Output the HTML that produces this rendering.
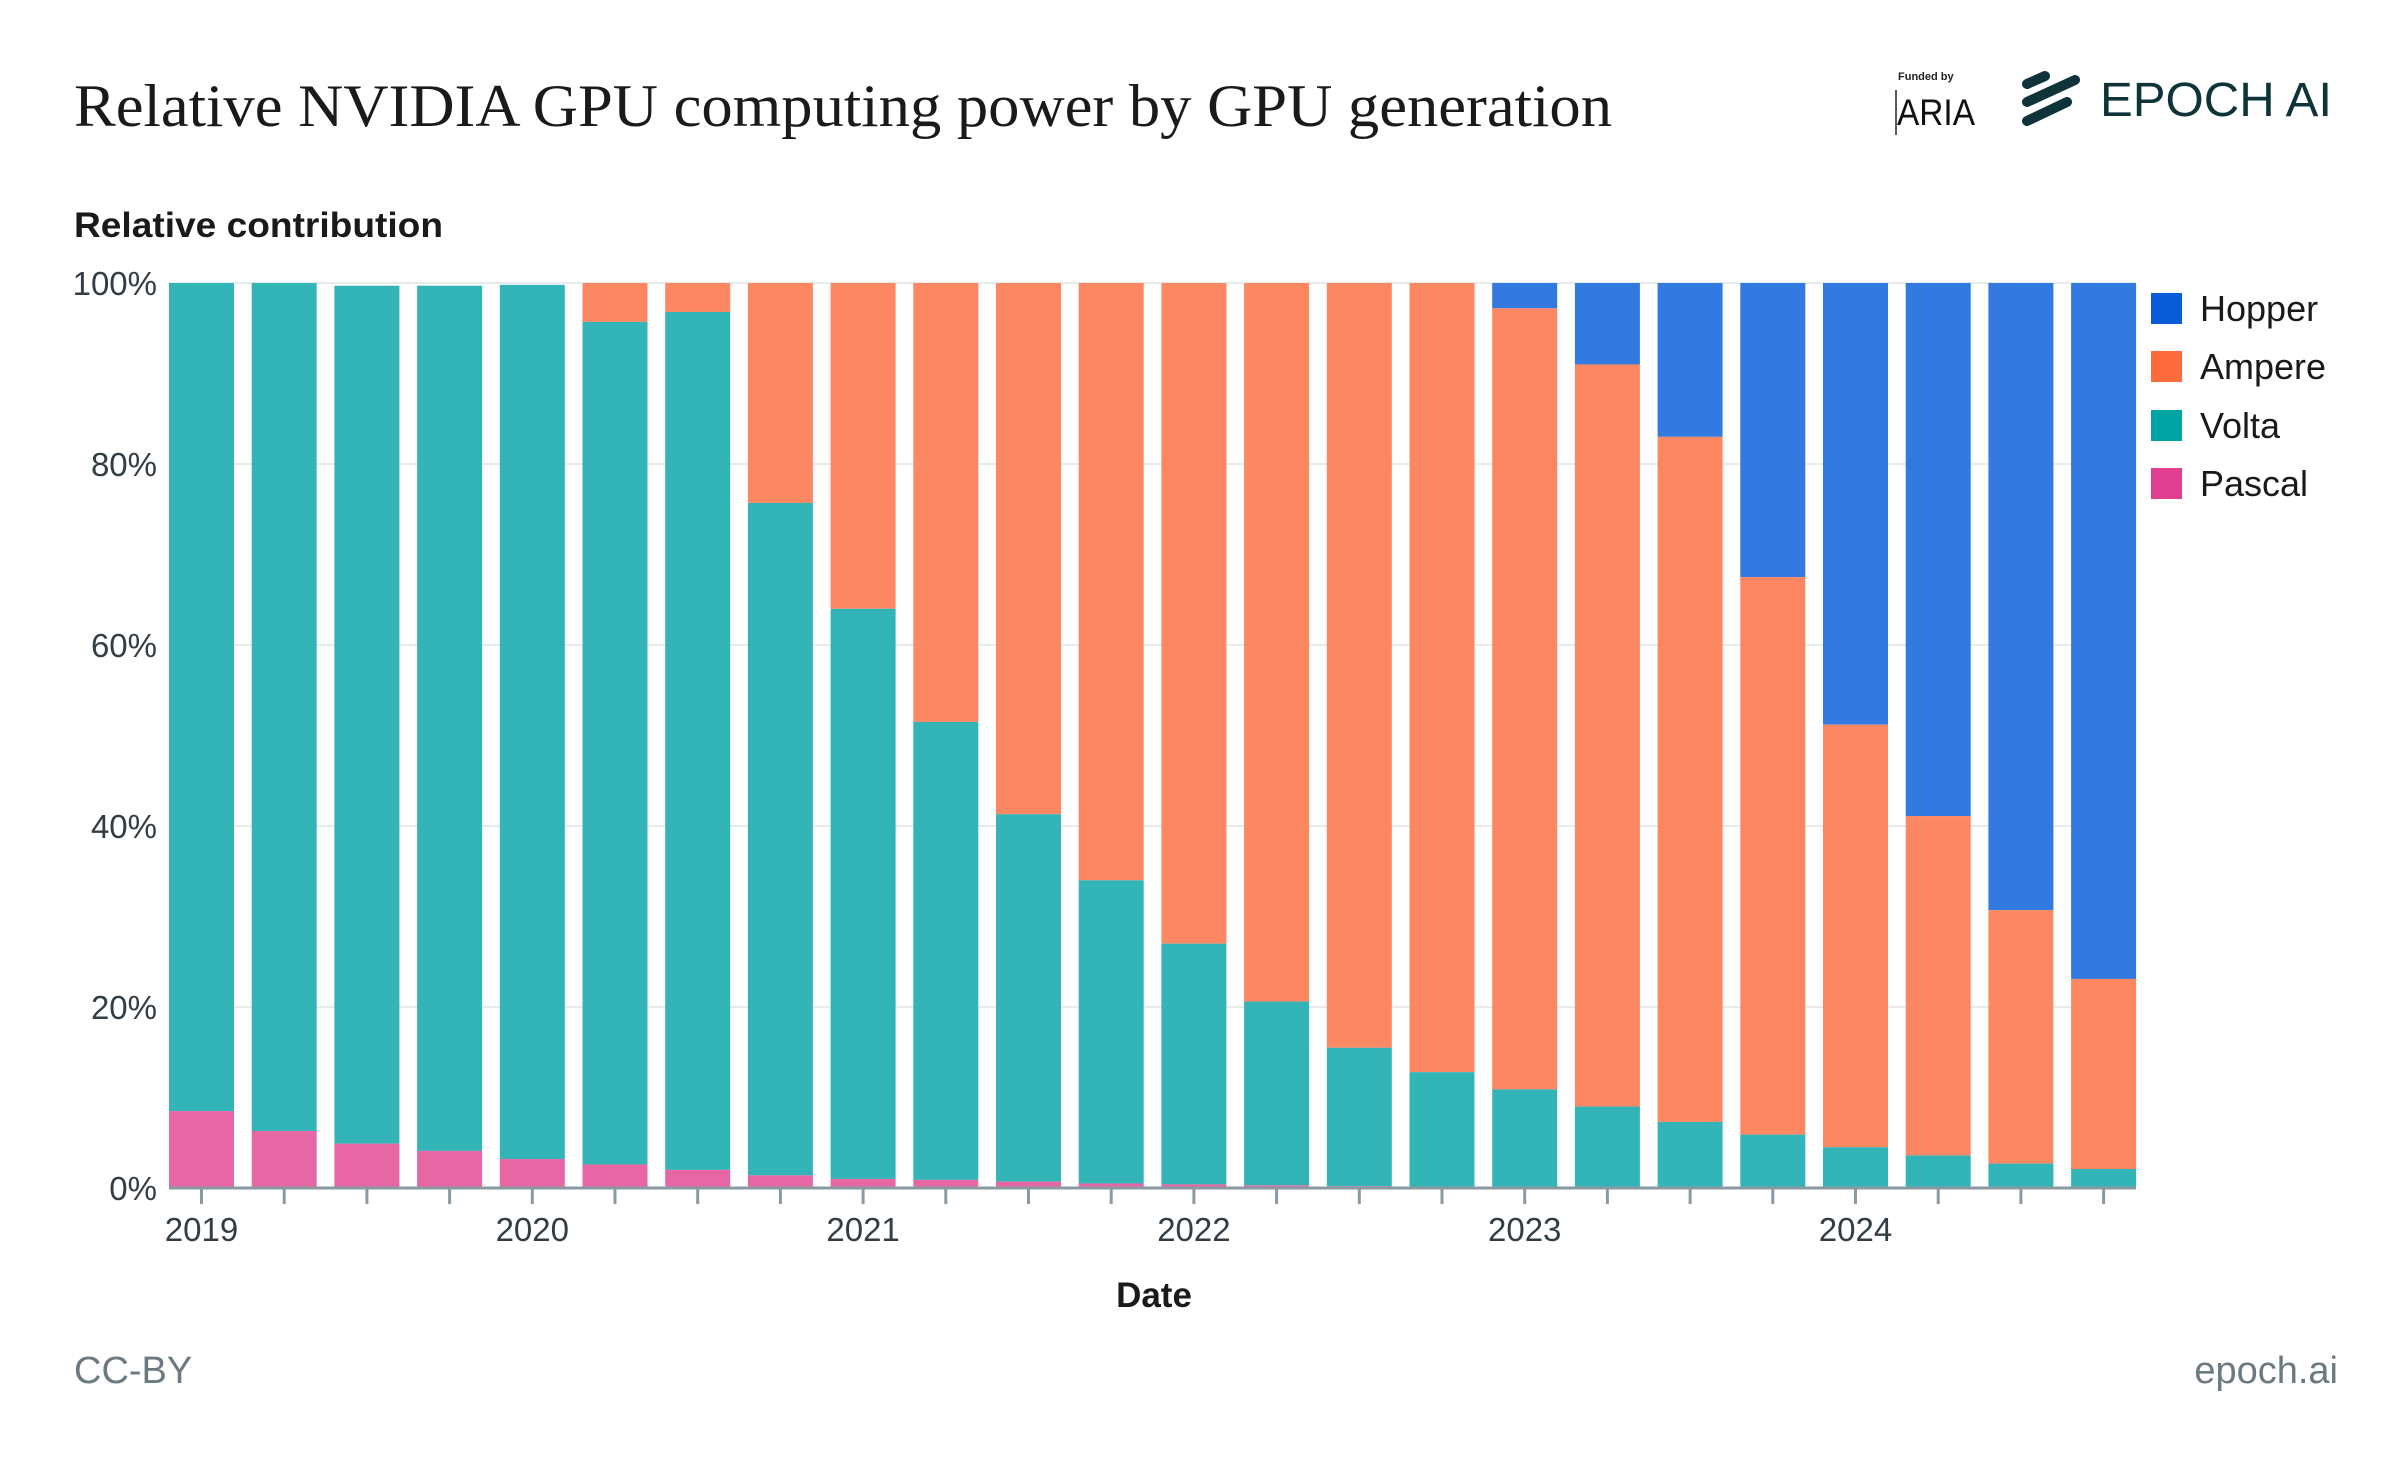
<!DOCTYPE html>
<html><head><meta charset="utf-8"><style>
html,body{margin:0;padding:0;background:#fff;}
svg{display:block;}
</style></head><body>
<svg id="s" width="2400" height="1469" viewBox="0 0 2400 1469" xmlns="http://www.w3.org/2000/svg" font-family="'Liberation Sans', sans-serif">
<rect width="2400" height="1469" fill="#fff"/>
<text x="74" y="126" font-family="'Liberation Serif', serif" font-size="60" fill="#1a1a1a" textLength="1538" lengthAdjust="spacingAndGlyphs">Relative NVIDIA GPU computing power by GPU generation</text>
<text x="1898" y="80" font-size="11" font-weight="bold" fill="#222">Funded by</text>
<line x1="1896" y1="90" x2="1896" y2="135" stroke="#222" stroke-width="1.5"/>
<text x="1897" y="125" font-size="37" fill="#111" textLength="78" lengthAdjust="spacingAndGlyphs">ARIA</text>
<g stroke="#0e3439" stroke-width="10" stroke-linecap="round">
<line x1="2027" y1="84" x2="2045" y2="76"/>
<line x1="2027" y1="102" x2="2075" y2="80"/>
<line x1="2027" y1="121" x2="2067" y2="102"/>
</g>
<text x="2100" y="116" font-size="48" fill="#0e3439" textLength="232" lengthAdjust="spacingAndGlyphs">EPOCH AI</text>
<text x="74" y="237" font-size="35" font-weight="bold" fill="#1a1a1a" textLength="369" lengthAdjust="spacingAndGlyphs">Relative contribution</text>
<g id="grid" stroke="#e6ecec" stroke-width="2"></g>
<g id="bars"></g>
<g id="ylab" font-size="33" fill="#333d44" text-anchor="end"></g>
<g id="xt" stroke="#8a9aa2" stroke-width="3"></g>
<line x1="169" y1="1188" x2="2136" y2="1188" stroke="#8a9aa2" stroke-width="3"/>
<g id="xlab" font-size="33" fill="#333d44" text-anchor="middle"></g>
<text x="1154" y="1307" font-size="35" font-weight="bold" fill="#1a1a1a" text-anchor="middle">Date</text>
<text x="74" y="1383" font-size="38" fill="#6b7a80">CC-BY</text>
<text x="2338" y="1383" font-size="38" fill="#6b7a80" text-anchor="end">epoch.ai</text>
<g font-size="36" fill="#1a1a1a">
<rect x="2151" y="293" width="31" height="31" fill="#0a5bd8"/><text x="2200" y="321">Hopper</text>
<rect x="2151" y="351" width="31" height="31" fill="#fd6a3c"/><text x="2200" y="379">Ampere</text>
<rect x="2151" y="410" width="31" height="31" fill="#00a5a3"/><text x="2200" y="438">Volta</text>
<rect x="2151" y="468" width="31" height="31" fill="#e03e8f"/><text x="2200" y="496">Pascal</text>
</g>
</svg>
<script>
var NS="http://www.w3.org/2000/svg";
function el(p,t,a,txt){var e=document.createElementNS(NS,t);for(var k in a)e.setAttribute(k,a[k]);if(txt)e.textContent=txt;document.getElementById(p).appendChild(e);}
function Y(p){return 1188-p*9.05;}
for(var i=0;i<=5;i++){el("grid","line",{x1:169,x2:2136,y1:Y(i*20),y2:Y(i*20)});el("ylab","text",{x:157,y:Y(i*20)+12},(i*20)+"%");}
var pas=[8.5,6.3,4.9,4.1,3.2,2.6,2.0,1.4,1.0,0.9,0.7,0.5,0.4,0.3,0.2,0.15,0.1,0,0,0,0,0,0,0];
var vol=[100,100,99.7,99.7,99.8,95.7,96.8,75.7,64,51.5,41.3,34,27,20.6,15.5,12.8,10.9,9,7.3,5.9,4.5,3.6,2.7,2.1];
var amp=[0,0,0,0,0,100,100,100,100,100,100,100,100,100,100,100,97.2,91,83,67.5,51.2,41.1,30.7,23.1];
for(var i=0;i<24;i++){
 var x=169+i*82.7,w=65;
 if(amp[i]>0&&amp[i]<100) el("bars","rect",{x:x,y:Y(100),width:w,height:Y(amp[i])-Y(100),fill:"#3279e0"});
 if(amp[i]>0) el("bars","rect",{x:x,y:Y(amp[i]),width:w,height:Y(vol[i])-Y(amp[i]),fill:"#fd8763"});
 el("bars","rect",{x:x,y:Y(vol[i]),width:w,height:Y(pas[i])-Y(vol[i]),fill:"#33b5b7"});
 if(pas[i]>0) el("bars","rect",{x:x,y:Y(pas[i]),width:w,height:Y(0)-Y(pas[i]),fill:"#e667a3"});
 var cx=x+w/2; el("xt","line",{x1:cx,x2:cx,y1:1188,y2:1204});
 if(i%4==0) el("xlab","text",{x:cx,y:1241},String(2019+i/4));
}
</script>
</body></html>
